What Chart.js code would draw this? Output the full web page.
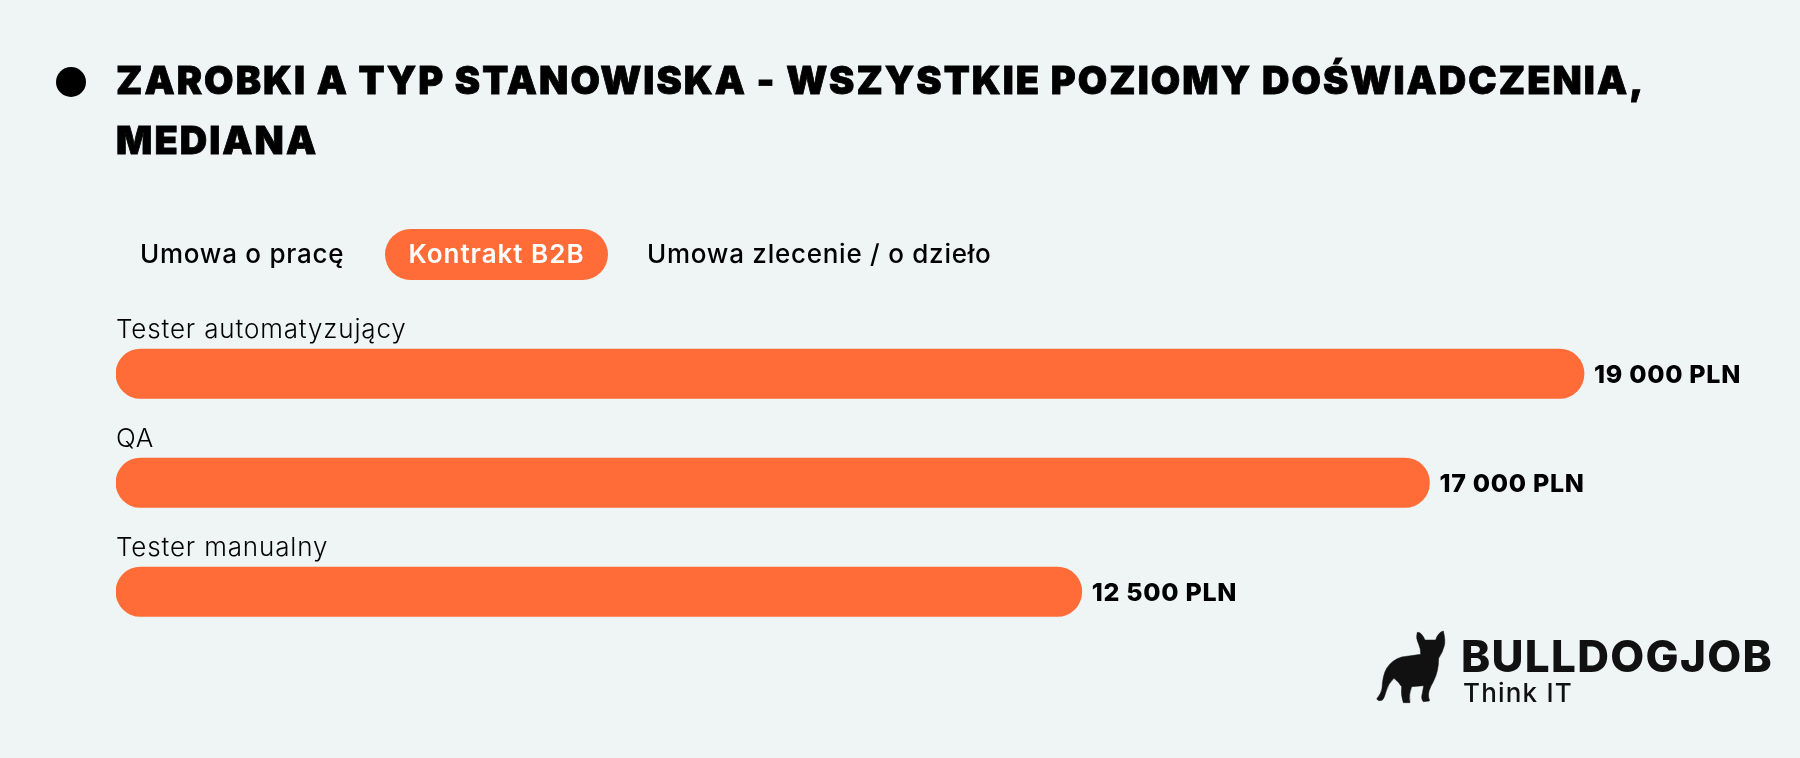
<!DOCTYPE html>
<html lang="pl">
<head>
<meta charset="utf-8">
<title>Zarobki a typ stanowiska</title>
<script src="https://cdn.jsdelivr.net/npm/chart.js@4"></script>
<style>
  html, body { margin: 0; padding: 0; background: #EFF5F5; }
  body { width: 1800px; height: 758px; position: relative; overflow: hidden; font-family: Inter, sans-serif; color: #000; }
  #salaryChart { position: absolute; left: 0; top: 0; }
  .dot { position: absolute; left: 56px; top: 67px; width: 30px; height: 30px; border-radius: 50%; background: #000; }
  h1 { position: absolute; left: 116px; top: 51px; margin: 0; width: 1650px; font-size: 38px; line-height: 59.5px; font-weight: 900; letter-spacing: 2.05px; -webkit-text-stroke: 0.8px #000; }
  .tab { position: absolute; top: 229px; height: 51px; line-height: 50px; font-size: 26px; font-weight: 500; letter-spacing: 0.75px; white-space: nowrap; }
  .tab.active { background: #FF6C37; color: #fff; border-radius: 25.5px; text-align: center; font-weight: 600; letter-spacing: 1px; }
  .logo-name { position: absolute; left: 1461px; top: 629px; font-size: 44px; line-height: 54px; font-weight: 800; letter-spacing: 1.3px; color: #111; white-space: nowrap; }
  .logo-tag { position: absolute; left: 1463px; top: 677px; font-size: 26px; line-height: 32px; font-weight: 500; letter-spacing: 1.2px; color: #111; white-space: nowrap; }
  .logo-dog { position: absolute; left: 0; top: 0; }
</style>
</head>
<body>
<canvas id="salaryChart" width="1800" height="758"></canvas>
<div class="dot"></div>
<h1>ZAROBKI A TYP STANOWISKA - WSZYSTKIE POZIOMY DOŚWIADCZENIA,<br>MEDIANA</h1>
<div id="tabs"></div>
<svg class="logo-dog" width="1800" height="758" viewBox="0 0 1800 758">
  <!-- sylwetka buldoga -->
  <path fill="#111" stroke="#111" stroke-width="1.5" stroke-linejoin="round" transform="translate(1370 625) scale(0.3333)"
    d="M20 222 Q34 205 36 190 Q38 150 50 130 Q65 105 95 96 L152 88 Q152 70 146 58 Q136 38 142 22 Q154 20 165 45 L197 45 Q204 22 220 18 Q228 50 222 65 Q218 82 206 100 Q206 140 190 170 Q172 200 176 218 Q180 226 178 228 L160 230 Q152 222 157 205 L161 182 L125 185 Q115 210 120 233 L100 233 Q92 210 95 185 Q85 170 72 160 Q55 175 48 200 Q42 222 36 226 Q25 230 20 222 Z"/>
</svg>
<div class="logo-name">BULLDOGJOB</div>
<div class="logo-tag">Think IT</div>

<script>
// dane z wykresu
const categories = ['Tester automatyzujący', 'QA', 'Tester manualny']
const salaries   = [19000, 17000, 12500]
const tabLabels  = ['Umowa o pracę', 'Kontrakt B2B', 'Umowa zlecenie / o dzieło']
const activeTab  = 1

const ORANGE = '#FF6C37'

// zakładki nad wykresem
const tabBoxes = [
  { left: 140, width: 210 },
  { left: 385, width: 223 },
  { left: 647, width: 345 },
]
document.getElementById('tabs').innerHTML = tabLabels.map((t, i) => {
  const b = tabBoxes[i]
  return `<div class="tab${i === activeTab ? ' active' : ''}" style="left:${b.left}px;width:${b.width}px">${t}</div>`
}).join('')

function formatPln(v) {
  return String(v).replace(/\B(?=(\d{3})+$)/g, ' ') + ' PLN'
}

// etykiety: nazwa nad słupkiem, kwota za słupkiem
const barLabels = {
  id: 'barLabels',
  afterDatasetsDraw(chart) {
    const { ctx } = chart
    chart.getDatasetMeta(0).data.forEach((bar, i) => {
      ctx.save()
      ctx.fillStyle = '#000'
      ctx.textBaseline = 'alphabetic'
      ctx.textAlign = 'left'
      ctx.font = '300 26px Inter, sans-serif'
      ctx.letterSpacing = '0.85px'
      ctx.fillText(categories[i], chart.chartArea.left, bar.y - 36)
      ctx.font = '800 25px Inter, sans-serif'
      ctx.letterSpacing = '0.7px'
      ctx.fillText(formatPln(salaries[i]), bar.x + 10, bar.y + 9)
      ctx.restore()
    })
  }
}

new Chart(document.getElementById('salaryChart'), {
  type: 'bar',
  data: {
    labels: categories,
    datasets: [{
      data: salaries,
      backgroundColor: ORANGE,
      barThickness: 49.5,
      borderRadius: 25,
      borderSkipped: false,
    }]
  },
  options: {
    indexAxis: 'y',
    responsive: false,
    animation: false,
    layout: { padding: { left: 116, right: 138.7, top: 319.25, bottom: 111.75 } },
    plugins: { legend: { display: false }, title: { display: false }, tooltip: { enabled: false } },
    scales: {
      x: { display: false, min: 0, max: 20000 },
      y: { display: false },
    }
  },
  plugins: [barLabels]
})
</script>
</body>
</html>
